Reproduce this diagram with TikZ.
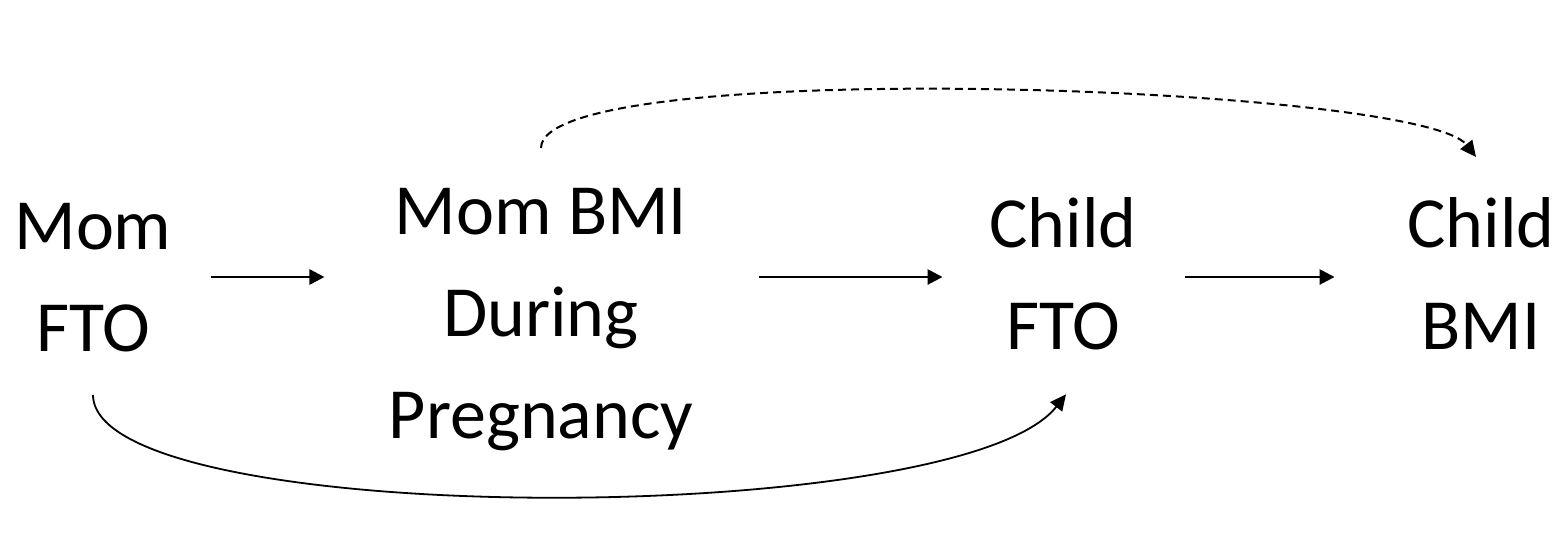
\documentclass[tikz,border=0pt]{standalone}
\usepackage{fontspec}
\setmainfont{Carlito}
\usetikzlibrary{arrows.meta}
\begin{document}
\begin{tikzpicture}[x=0.5pt,y=-0.5pt,
  lbl/.style={align=center,inner sep=0pt,anchor=north,
    font=\fontsize{36pt}{51pt}\selectfont},
  arr/.style={line width=1.3pt,-{Triangle[length=7.5pt,width=7.5pt]}},
  carr/.style={line width=0.9pt,-{Triangle[length=8pt,width=7.5pt]}},
  darr/.style={line width=1pt,dash pattern=on 4pt off 2.5pt,-{Triangle[length=8pt,width=7.5pt]}}]
\useasboundingbox (0,0) rectangle (1558,532);
\node[lbl] (mom)  at (93,202.5)  {Mom\\FTO};
\node[lbl] (bmi)  at (541,187.5) {Mom BMI\\During\\Pregnancy};
\node[lbl] (cfto) at (1063,197)  {Child\\FTO};
\node[lbl] (cbmi) at (1481,197)  {Child\\BMI};
\coordinate (row) at (0,277);
\draw[arr,shorten <=19.75pt,shorten >=32pt] (mom.east |- row) -- (bmi.west |- row);
\draw[arr,shorten <=32.75pt,shorten >=23.25pt] (bmi.east |- row) -- (cfto.west |- row);
\draw[arr,shorten <=24.25pt,shorten >=36.25pt] (cfto.east |- row) -- (cbmi.west |- row);
\draw[carr] ([yshift=-21.5pt]mom.south) .. controls (94,530) and (960,530) .. ([xshift=1.5pt,yshift=-22pt]cfto.south);
\draw[darr] ([yshift=19.75pt]bmi.north) .. controls (541,55) and (1420,85) .. ([xshift=-2.5pt,yshift=20pt]cbmi.north);
\end{tikzpicture}
\end{document}
